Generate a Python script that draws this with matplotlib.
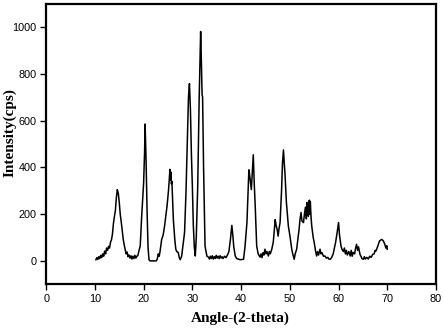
import matplotlib
matplotlib.use("Agg")
import matplotlib.pyplot as plt

# XRD pattern
two_theta = [
    10.2, 10.4, 10.6, 10.8, 11.0, 11.2, 11.4, 11.6, 11.8, 12.0, 12.2, 12.4, 12.6, 12.8, 13.0,
    13.2, 13.4, 13.6, 13.8, 14.0, 14.2, 14.4, 14.6, 14.8, 15.0, 15.2, 15.5, 15.8, 16.0, 16.2,
    16.4, 16.6, 16.8, 17.0, 17.2, 17.4, 17.6, 17.8, 18.0, 18.2, 18.4, 18.6, 18.8, 19.0, 19.3,
    19.6, 20.0, 20.2, 20.3, 20.5, 20.7, 20.9, 21.1, 21.3, 22.6, 22.8, 23.0, 23.2, 23.4, 23.7,
    24.0, 24.3, 24.8, 25.1, 25.4, 25.5, 25.6, 25.7, 25.8, 26.1, 26.4, 26.6, 26.8, 27.1, 27.3,
    27.5, 27.8, 28.1, 28.4, 28.7, 28.9, 29.2, 29.4, 29.6, 29.8, 30.0, 30.2, 30.4, 30.6, 30.8,
    31.1, 31.4, 31.7, 31.8, 32.0, 32.1, 32.3, 32.6, 32.8, 33.0, 33.3, 33.5, 33.7, 33.9, 34.1,
    34.3, 34.5, 34.7, 34.9, 35.1, 35.3, 35.5, 35.7, 35.9, 36.1, 36.3, 36.6, 36.9, 37.2, 37.5,
    37.8, 38.1, 38.3, 38.5, 38.8, 39.1, 39.8, 40.5, 40.8, 41.2, 41.6, 41.8, 42.1, 42.3, 42.5,
    42.7, 42.9, 43.2, 43.5, 43.9, 44.1, 44.3, 44.5, 44.7, 44.9, 45.1, 45.3, 45.6, 45.8, 46.0,
    46.3, 46.6, 47.0, 47.2, 47.4, 47.6, 47.8, 48.0, 48.3, 48.5, 48.7, 48.85, 49.0, 49.3, 49.7,
    50.0, 50.2, 50.4, 50.6, 50.9, 51.1, 51.4, 51.7, 51.9, 52.1, 52.3, 52.5, 52.8, 53.0, 53.2,
    53.4, 53.5, 53.7, 53.8, 54.0, 54.1, 54.2, 54.35, 54.5, 54.8, 55.0, 55.3, 55.5, 55.7, 55.9,
    56.2, 56.4, 56.6, 56.9, 57.2, 57.5, 57.8, 58.0, 58.3, 58.6, 58.9, 59.1, 59.4, 59.7, 60.0,
    60.2, 60.5, 60.7, 61.0, 61.2, 61.4, 61.6, 61.8, 62.1, 62.4, 62.6, 62.8, 63.0, 63.3, 63.5,
    63.7, 63.9, 64.1, 64.4, 64.6, 64.8, 65.1, 65.3, 65.5, 65.8, 66.1, 66.4, 66.7, 67.0, 67.3,
    67.5, 67.7, 68.0, 68.4, 68.7, 68.9, 69.2, 69.5, 69.7, 69.9, 70.0,
]
intensity = [
    5, 14, 6, 18, 10, 24, 14, 30, 20, 42, 30, 55, 45, 62, 55,
    80, 90, 115, 160, 190, 215, 270, 305, 290, 250, 200, 150, 95, 70, 50,
    30, 38, 18, 25, 12, 22, 8, 20, 10, 24, 12, 20, 22, 40, 64,
    191, 335, 470, 586, 430, 220, 60, 5, 0, 0, 8, 30, 20, 45, 92,
    110, 150, 234, 300, 392, 345, 380, 330, 340, 177, 90, 50, 40, 36, 15,
    5, 20, 70, 122, 300, 462, 700, 759, 650, 460, 319, 150, 60, 21, 100,
    318, 700, 982, 900, 710, 702, 400, 64, 40, 20, 16, 8, 20, 10, 22,
    8, 18, 10, 24, 12, 20, 10, 22, 12, 18, 10, 20, 14, 25, 40,
    90, 152, 110, 60, 21, 10, 5, 7, 60, 164, 390, 360, 305, 380, 454,
    330, 234, 64, 30, 16, 30, 14, 35, 25, 50, 30, 40, 21, 40, 30,
    50, 80, 177, 150, 135, 106, 140, 164, 300, 420, 475, 420, 376, 250, 149,
    110, 80, 50, 30, 7, 30, 50, 100, 135, 180, 207, 170, 164, 200, 230,
    180, 250, 200, 191, 260, 200, 255, 190, 149, 100, 80, 40, 21, 40, 25,
    50, 30, 35, 20, 21, 12, 15, 8, 7, 15, 30, 50, 80, 120, 164,
    110, 64, 50, 40, 55, 30, 45, 25, 40, 21, 45, 20, 36, 30, 55,
    71, 45, 60, 28, 20, 10, 7, 18, 8, 15, 8, 20, 15, 28, 30,
    45, 43, 60, 85, 90, 92, 85, 71, 55, 65, 50,
]
x_ticks = [0, 10, 20, 30, 40, 50, 60, 70, 80]
y_ticks = [0, 200, 400, 600, 800, 1000]

fig = plt.figure(figsize=(4.44, 3.29), dpi=100)
ax = fig.add_axes([0.104, 0.136, 0.878, 0.852])
ax.plot(two_theta, intensity, color="black", linewidth=1.1)

ax.set_xlim(0, 80)
ax.set_ylim(-100, 1100)
ax.set_xticks(x_ticks)
ax.set_yticks(y_ticks)
ax.tick_params(direction="out", length=4, width=1, pad=3, labelsize=7.8, top=False, right=False)
for lab in ax.get_xticklabels() + ax.get_yticklabels():
    lab.set_fontfamily("Liberation Sans")
for s in ax.spines.values():
    s.set_linewidth(1.6)

ax.set_xlabel("Angle-(2-theta)", fontsize=11, fontweight="bold", family="Liberation Serif")
ax.set_ylabel("Intensity(cps)", fontsize=11, fontweight="bold", family="Liberation Serif")
ax.xaxis.set_label_coords(0.497, -0.098)
ax.yaxis.set_label_coords(-0.075, 0.54)

fig.savefig("out.png", dpi=100)
